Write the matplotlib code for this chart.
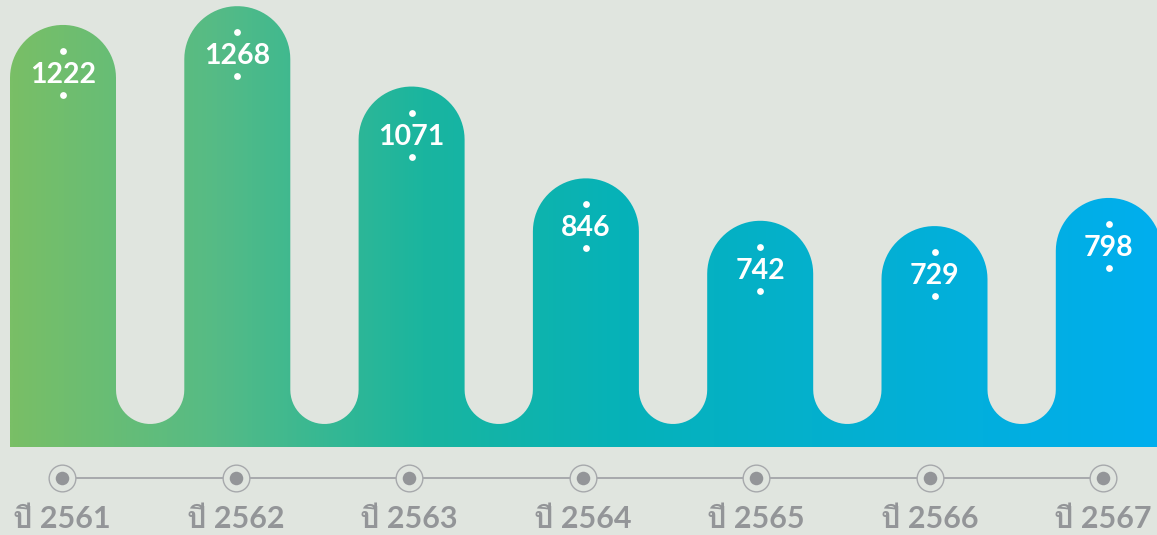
import numpy as np
import matplotlib
matplotlib.use("Agg")
import matplotlib.pyplot as plt
from matplotlib import font_manager
from matplotlib.ft2font import FT2Font
from matplotlib.path import Path
from matplotlib.patches import PathPatch
from matplotlib.colors import LinearSegmentedColormap

years = ["ปี 2561", "ปี 2562", "ปี 2563", "ปี 2564", "ปี 2565", "ปี 2566", "ปี 2567"]
values = [1222, 1268, 1071, 846, 742, 729, 798]

W, H = 1157, 535
bg = "#e0e5df"
grey = "#939598"
line_grey = "#a7a9ac"


def find_thai_family():
    # look for any installed font that has the Thai glyphs we need
    for f in font_manager.fontManager.ttflist:
        try:
            ft = FT2Font(f.fname)
            if ft.get_char_index(ord("ป")) and ft.get_char_index(ord("ี")):
                return f.name
        except Exception:
            continue
    return None


thai = find_thai_family()
fams = ["Lato", "DejaVu Sans"]
if thai:
    fams.insert(1, thai)
plt.rcParams["font.family"] = fams

fig = plt.figure(figsize=(W / 100, H / 100), dpi=100)
fig.patch.set_facecolor(bg)
ax = fig.add_axes([0, 0, 1, 1])
ax.set_facecolor(bg)
ax.axis("off")

# pixel layout -> data units (x: category index, y: value)
px_per_x = 174.3
px_per_y = 0.408
x_left = -63 / px_per_x
y_bottom = (523.5 - H) / px_per_y
xlim = (x_left, x_left + W / px_per_x)
ylim = (y_bottom, y_bottom + H / px_per_y)

hw = 53 / px_per_x          # half bar width
r_top_y = 53 / px_per_y     # top arc vertical radius
gap_r_x = (1 - 2 * hw) / 2  # valley radius (x units)
gap_r_y = gap_r_x * px_per_x / px_per_y
base = y_bottom + (H - 447) / px_per_y
valley_c = y_bottom + (H - 424) / px_per_y + gap_r_y

xs = np.arange(len(values))
verts = [(xs[0] - hw, base)]
t = np.linspace(np.pi, 0, 40)
for i, (x, v) in enumerate(zip(xs, values)):
    cy = v - r_top_y
    verts.append((x - hw, cy))
    verts += list(zip(x + hw * np.cos(t), cy + r_top_y * np.sin(t)))
    if i < len(values) - 1:
        cx = x + 0.5
        verts.append((x + hw, valley_c))
        tv = np.linspace(np.pi, 2 * np.pi, 30)
        verts += list(zip(cx + gap_r_x * np.cos(tv), valley_c + gap_r_y * np.sin(tv)))
    else:
        verts.append((x + hw, base))
verts.append(verts[0])
codes = [Path.MOVETO] + [Path.LINETO] * (len(verts) - 2) + [Path.CLOSEPOLY]
shape = PathPatch(Path(verts, codes), facecolor="none", edgecolor="none")
ax.add_patch(shape)

cmap = LinearSegmentedColormap.from_list(
    "grad", [(0, "#79bf66"), (0.18, "#55bb86"), (0.36, "#1ab59f"),
             (0.53, "#06b2b8"), (0.7, "#04b0cd"), (1, "#00aeee")])
grad = np.linspace(0, 1, 512).reshape(1, -1)
img = ax.imshow(grad, cmap=cmap, aspect="auto",
                extent=(xs[0] - hw, xlim[1], base, ylim[1]),
                interpolation="bilinear", zorder=1)
img.set_clip_path(shape)
ax.set_xlim(*xlim)
ax.set_ylim(*ylim)

# value labels with dots above and below
for x, v in zip(xs, values):
    cy = v - 48 / px_per_y
    ax.text(x, cy - 10 / px_per_y, str(v), ha="center", va="baseline",
            color="white", fontsize=20.5, fontweight="bold", zorder=3)
    ax.scatter([x, x], [cy + 22 / px_per_y, cy - 22 / px_per_y], s=24,
               color="white", zorder=3, linewidths=0)

# timeline (slightly tighter spacing than the bars)
tx = xs * (173.5 / px_per_x) - 1 / px_per_x
tl_y = y_bottom + (H - 478) / px_per_y
ax.plot([tx[0], tx[-1]], [tl_y, tl_y], color=line_grey, lw=1.4, zorder=2)
ax.scatter(tx, [tl_y] * len(tx), s=370, facecolor=bg, edgecolor=line_grey,
           linewidths=1.0, zorder=3)
ax.scatter(tx, [tl_y] * len(tx), s=95, color=grey, linewidths=0, zorder=4)

lab_y = y_bottom + (H - 528) / px_per_y
for x, lab in zip(tx, years):
    ax.text(x, lab_y, lab, ha="center", va="baseline", color=grey,
            fontsize=22, fontweight="bold", zorder=3)

fig.savefig("out.png", dpi=100, facecolor=bg)
